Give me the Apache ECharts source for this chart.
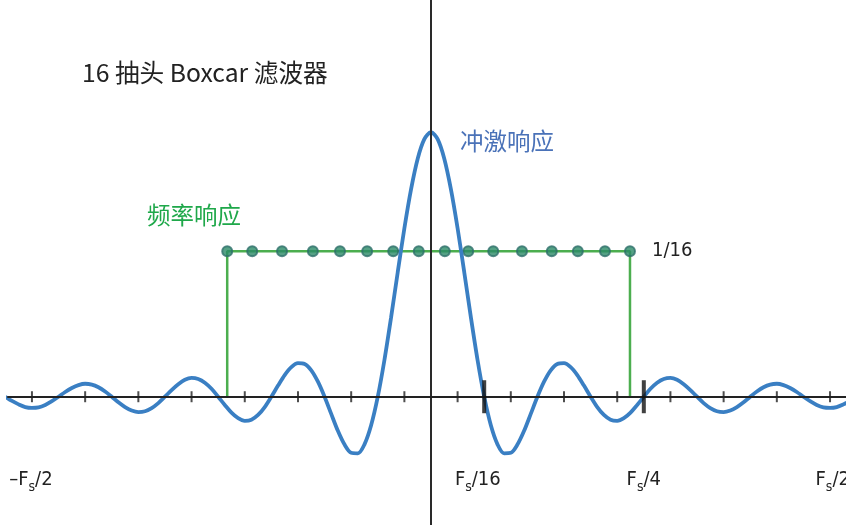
<!DOCTYPE html>
<html>
<head>
<meta charset="utf-8">
<script src="https://cdn.jsdelivr.net/npm/echarts@6/dist/echarts.min.js"></script>
<style>
html,body{margin:0;padding:0;background:#fff;}
#chart{width:846px;height:525px;}
</style>
</head>
<body>
<div id="chart"></div>
<script>
const freqUnits = [-8,-7.875,-7.75,-7.625,-7.5,-7.375,-7.25,-7.125,-7,-6.875,-6.75,-6.625,-6.5,-6.375,-6.25,-6.125,
  -6,-5.875,-5.75,-5.625,-5.5,-5.375,-5.25,-5.125,-5,-4.875,-4.75,-4.625,-4.5,-4.375,-4.25,-4.125,
  -4,-3.875,-3.75,-3.625,-3.5,-3.375,-3.25,-3.125,-3,-2.875,-2.75,-2.625,-2.5,-2.375,-2.25,-2.125,
  -2,-1.875,-1.75,-1.625,-1.5,-1.375,-1.25,-1.125,-1,-0.875,-0.75,-0.625,-0.5,-0.375,-0.25,-0.125,
  0,0.125,0.25,0.375,0.5,0.625,0.75,0.875,1,1.125,1.25,1.375,1.5,1.625,1.75,1.875,
  2,2.125,2.25,2.375,2.5,2.625,2.75,2.875,3,3.125,3.25,3.375,3.5,3.625,3.75,3.875,
  4,4.125,4.25,4.375,4.5,4.625,4.75,4.875,5,5.125,5.25,5.375,5.5,5.625,5.75,5.875,
  6,6.125,6.25,6.375,6.5,6.625,6.75,6.875,7,7.125,7.25,7.375,7.5,7.625,7.75,7.875,8];
const blueCurve = [0,-0.016,-0.029,-0.039,-0.042,-0.040,-0.031,-0.017,0,0.018,0.033,0.044,0.049,0.046,0.036,0.020,
  0,-0.021,-0.039,-0.052,-0.058,-0.055,-0.043,-0.024,0,0.025,0.047,0.064,0.071,0.067,0.053,0.030,
  0,-0.031,-0.060,-0.081,-0.091,-0.087,-0.069,-0.039,0,0.042,0.082,0.112,0.127,0.124,0.100,0.057,
  0,-0.065,-0.129,-0.181,-0.212,-0.214,-0.180,-0.108,0,0.139,0.300,0.471,0.637,0.784,0.900,0.974,
  1,0.974,0.900,0.784,0.637,0.471,0.300,0.139,0,-0.108,-0.180,-0.214,-0.212,-0.181,-0.129,-0.065,
  0,0.057,0.100,0.124,0.127,0.112,0.082,0.042,0,-0.039,-0.069,-0.087,-0.091,-0.081,-0.060,-0.031,
  0,0.030,0.053,0.067,0.071,0.064,0.047,0.025,0,-0.024,-0.043,-0.055,-0.058,-0.052,-0.039,-0.021,
  0,0.020,0.036,0.046,0.049,0.044,0.033,0.018,0,-0.017,-0.031,-0.040,-0.042,-0.039,-0.029,-0.016,0];
// 16 taps of the boxcar
const tapPositions = [-3.83,-3.36,-2.80,-2.22,-1.71,-1.20,-0.71,-0.23,0.26,0.70,1.17,1.71,2.27,2.76,3.27,3.74];
const tapHeight = 0.55;
// Axis tick marks
const minorTicks = [-7.5,-6.5,-5.5,-4.5,-3.5,-2.5,-1.5,-0.5,0.5,1.5,2.5,3.5,4.5,5.5,6.5,7.5];
const majorTicks = [1,4];
// Tick labels: [prefix, subscript, suffix] and their label positions
const tickLabelParts = [['–F','s','/2'],['F','s','/16'],['F','s','/4'],['F','s','/2']];
const tickLabelPositions = [-7.52,0.88,4.0,7.55];

const narrow = "'Liberation Sans Narrow','DejaVu Sans Condensed','Roboto Condensed','Liberation Sans','Noto Sans CJK SC',sans-serif";
const cjk = "'Noto Sans CJK SC','Liberation Sans',sans-serif";

const chart = echarts.init(document.getElementById('chart'), null, {renderer:'canvas'});

const boxcarLine = [
  [tapPositions[0],0],[tapPositions[0],tapHeight],
  [tapPositions[tapPositions.length-1],tapHeight],[tapPositions[tapPositions.length-1],0]
];

const labelMap = {};
tickLabelPositions.forEach((p,i)=>{ labelMap[p.toFixed(2)] = tickLabelParts[i]; });

chart.setOption({
  animation:false,
  backgroundColor:'#ffffff',
  grid:{left:8,right:0,top:0,bottom:0,containLabel:false,outerBoundsMode:'none'},
  xAxis:{
    type:'value', min:-7.95, max:7.8, z:10,
    axisLine:{show:true,onZero:true,lineStyle:{color:'#222',width:2}},
    axisTick:{show:false},
    splitLine:{show:false},
    axisLabel:{
      show:true,
      customValues:tickLabelPositions,
      margin:-57,
      showMinLabel:true, showMaxLabel:true,
      hideOverlap:false,
      formatter:function(v){
        const parts = labelMap[Number(v).toFixed(2)];
        if(!parts) return '';
        return '{n|'+parts[0]+'}{s|'+parts[1]+'}{n|'+parts[2]+'}';
      },
      rich:{
        n:{fontFamily:narrow,fontSize:20,color:'#222',lineHeight:24},
        s:{fontFamily:narrow,fontSize:14,color:'#222',padding:[14,0,0,0],lineHeight:24}
      }
    }
  },
  yAxis:{
    type:'value', min:-0.485, max:1.5, z:10,
    axisLine:{show:true,onZero:true,lineStyle:{color:'#2a2a2a',width:2}},
    axisTick:{show:false}, axisLabel:{show:false}, splitLine:{show:false}
  },
  graphic:[
    {type:'text',left:82,top:60,style:{text:'16 抽头 Boxcar 滤波器',font:"24.7px "+cjk,fill:'#222'}},
    {type:'text',left:460,top:129,style:{text:'冲激响应',font:"23.5px "+cjk,fill:'#4a72b8'}},
    {type:'text',left:147,top:203,style:{text:'频率响应',font:"23.5px "+cjk,fill:'#1fa84a'}},
    {type:'text',left:652,top:241,style:{text:'1/16',font:"20px "+narrow,fill:'#222'}}
  ],
  series:[
    {
      type:'line', name:'boxcar', data:boxcarLine, showSymbol:false, symbol:'none',
      lineStyle:{color:'#4cae4f',width:2.5}, z:2, silent:true
    },
    {
      type:'scatter', name:'taps', data:tapPositions.map(x=>[x,tapHeight]),
      symbol:'circle', symbolSize:10,
      itemStyle:{color:'#2b8a66',borderColor:'#2e6f6a',borderWidth:2}, z:3, silent:true
    },
    {
      type:'line', name:'sinc', data:freqUnits.map((x,i)=>[x,blueCurve[i]]),
      smooth:0.3, showSymbol:false, symbol:'none',
      lineStyle:{color:'#3a7fc3',width:3.8}, z:4, silent:true
    },
    {
      type:'scatter', name:'minorTicks', data:minorTicks.map(x=>[x,0]),
      symbol:'rect', symbolSize:[2,11], itemStyle:{color:'#222'}, z:12, silent:true
    },
    {
      type:'scatter', name:'majorTicks', data:majorTicks.map(x=>[x,0]),
      symbol:'rect', symbolSize:[4,33], itemStyle:{color:'#111'}, z:12, silent:true
    }
  ]
});
</script>
</body>
</html>
